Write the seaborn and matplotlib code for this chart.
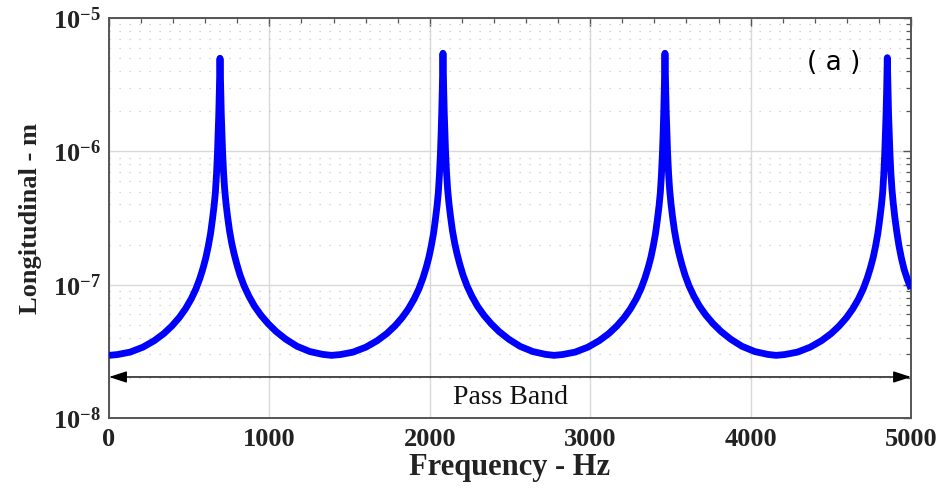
import matplotlib
matplotlib.use("Agg")
import matplotlib.pyplot as plt
import numpy as np
import pandas as pd
import seaborn as sns
from matplotlib.ticker import FixedLocator, MultipleLocator, LogLocator, NullFormatter

# ---- data (frequency in Hz, longitudinal displacement in m) ----
freq_lobe1 = [0, 52, 132, 212, 282, 342, 392, 437, 477, 512, 542, 567, 587, 604, 619, 633,
              645, 655, 663, 670, 676, 680, 684, 688, 692,
              696, 700, 704, 708, 714, 721, 729, 739, 751, 765, 780, 797, 817, 842, 872,
              907, 947, 992, 1042, 1102, 1172, 1252, 1332, 1387]
disp_lobe1 = [2.95e-8, 2.99e-8, 3.12e-8, 3.4e-8, 3.8e-8, 4.3e-8, 4.9e-8, 5.65e-8, 6.6e-8, 7.8e-8,
              9.3e-8, 1.12e-7, 1.34e-7, 1.6e-7, 1.95e-7, 2.42e-7, 3.1e-7, 3.9e-7, 4.9e-7, 6.7e-7,
              9.6e-7, 1.3e-6, 1.85e-6, 2.9e-6, 5.0e-6,
              3.0e-6, 1.9e-6, 1.35e-6, 1.0e-6, 7.0e-7, 5.2e-7, 4.1e-7, 3.25e-7, 2.55e-7, 2.05e-7,
              1.7e-7, 1.42e-7, 1.18e-7, 9.8e-8, 8.2e-8, 6.9e-8, 5.9e-8, 5.1e-8, 4.45e-8, 3.9e-8,
              3.45e-8, 3.15e-8, 3.0e-8, 2.95e-8]

freq_lobe2 = [1442, 1522, 1602, 1672, 1732, 1782, 1827, 1867, 1902, 1932, 1957, 1977, 1994,
              2009, 2023, 2035, 2045, 2053, 2060, 2066, 2070, 2074, 2078, 2082,
              2086, 2090, 2094, 2098, 2104, 2111, 2119, 2129, 2141, 2155, 2170, 2187, 2207,
              2232, 2262, 2297, 2337, 2382, 2432, 2492, 2562, 2642, 2722, 2774]
disp_lobe2 = [2.99e-8, 3.12e-8, 3.4e-8, 3.8e-8, 4.3e-8, 4.9e-8, 5.65e-8, 6.6e-8, 7.8e-8, 9.3e-8,
              1.12e-7, 1.34e-7, 1.6e-7, 1.95e-7, 2.42e-7, 3.1e-7, 3.9e-7, 4.9e-7, 6.7e-7, 9.6e-7,
              1.3e-6, 1.9e-6, 3.0e-6, 5.45e-6,
              3.1e-6, 1.95e-6, 1.37e-6, 1.0e-6, 7.0e-7, 5.2e-7, 4.1e-7, 3.25e-7, 2.55e-7, 2.05e-7,
              1.7e-7, 1.42e-7, 1.18e-7, 9.8e-8, 8.2e-8, 6.9e-8, 5.9e-8, 5.1e-8, 4.45e-8, 3.9e-8,
              3.45e-8, 3.15e-8, 3.0e-8, 2.95e-8]

freq_lobe3 = [2826, 2906, 2986, 3056, 3116, 3166, 3211, 3251, 3286, 3316, 3341, 3361, 3378,
              3393, 3407, 3419, 3429, 3437, 3444, 3450, 3454, 3458, 3462, 3466,
              3470, 3474, 3478, 3482, 3488, 3495, 3503, 3513, 3525, 3539, 3554, 3571, 3591,
              3616, 3646, 3681, 3721, 3766, 3816, 3876, 3946, 4026, 4106, 4159]
disp_lobe3 = [2.99e-8, 3.12e-8, 3.4e-8, 3.8e-8, 4.3e-8, 4.9e-8, 5.65e-8, 6.6e-8, 7.8e-8, 9.3e-8,
              1.12e-7, 1.34e-7, 1.6e-7, 1.95e-7, 2.42e-7, 3.1e-7, 3.9e-7, 4.9e-7, 6.7e-7, 9.6e-7,
              1.3e-6, 1.9e-6, 3.0e-6, 5.45e-6,
              3.1e-6, 1.95e-6, 1.37e-6, 1.0e-6, 7.0e-7, 5.2e-7, 4.1e-7, 3.25e-7, 2.55e-7, 2.05e-7,
              1.7e-7, 1.42e-7, 1.18e-7, 9.8e-8, 8.2e-8, 6.9e-8, 5.9e-8, 5.1e-8, 4.45e-8, 3.9e-8,
              3.45e-8, 3.15e-8, 3.0e-8, 2.95e-8]

freq_lobe4 = [4212, 4292, 4372, 4442, 4502, 4552, 4597, 4637, 4672, 4702, 4727, 4747, 4764,
              4779, 4793, 4805, 4815, 4823, 4830, 4836, 4840, 4844, 4848, 4852,
              4856, 4860, 4864, 4868, 4874, 4881, 4889, 4899, 4911, 4925, 4940, 4957, 4977, 5000]
disp_lobe4 = [2.99e-8, 3.12e-8, 3.4e-8, 3.8e-8, 4.3e-8, 4.9e-8, 5.65e-8, 6.6e-8, 7.8e-8, 9.3e-8,
              1.12e-7, 1.34e-7, 1.6e-7, 1.95e-7, 2.42e-7, 3.1e-7, 3.9e-7, 4.9e-7, 6.7e-7, 9.6e-7,
              1.3e-6, 1.85e-6, 2.9e-6, 5.05e-6,
              3.0e-6, 1.9e-6, 1.35e-6, 1.0e-6, 7.0e-7, 5.2e-7, 4.1e-7, 3.2e-7, 2.5e-7, 1.95e-7,
              1.58e-7, 1.3e-7, 1.1e-7, 9.3e-8]

x_ticks = [0, 1000, 2000, 3000, 4000, 5000]
x_tick_labels = ["0", "1000", "2000", "3000", "4000", "5000"]
y_ticks = [1e-8, 1e-7, 1e-6, 1e-5]
y_tick_labels = [r"$\mathbf{10^{-8}}$", r"$\mathbf{10^{-7}}$", r"$\mathbf{10^{-6}}$", r"$\mathbf{10^{-5}}$"]
band_start, band_end, band_level = 0, 5000, 2.03e-8
band_text = "Pass Band"
band_text_pos = (2506, 1.42e-8)
panel_label = "( a )"

# ---- style ----
sns.set_theme(style="white")
plt.rcParams["font.family"] = ["Liberation Serif", "DejaVu Serif"]
plt.rcParams["mathtext.fontset"] = "custom"
plt.rcParams["mathtext.rm"] = "Liberation Serif"
plt.rcParams["mathtext.bf"] = "Liberation Serif:bold"
plt.rcParams["mathtext.it"] = "Liberation Serif:italic"

fig = plt.figure(figsize=(9.43, 4.9), dpi=100)
fig.patch.set_facecolor("white")
ax = fig.add_axes([0.1156, 0.147, 0.8505, 0.816])
ax.set_yscale("log")

df = pd.DataFrame({
    "Frequency": freq_lobe1 + freq_lobe2 + freq_lobe3 + freq_lobe4,
    "Disp": disp_lobe1 + disp_lobe2 + disp_lobe3 + disp_lobe4,
})
sns.lineplot(data=df, x="Frequency", y="Disp", color="#0000ff", lw=4.9, ax=ax,
             solid_joinstyle="round", solid_capstyle="butt", zorder=3)

ax.set_xlim(0, 5000)
ax.set_ylim(1e-8, 1e-5)

ax.xaxis.set_major_locator(FixedLocator(x_ticks))
ax.set_xticklabels(x_tick_labels)
ax.xaxis.set_minor_locator(MultipleLocator(200))
ax.yaxis.set_major_locator(FixedLocator(y_ticks))
ax.set_yticklabels(y_tick_labels)
ax.yaxis.set_minor_locator(LogLocator(base=10, subs=np.arange(2, 10)))
ax.yaxis.set_minor_formatter(NullFormatter())

ax.grid(which="major", color="#d9d9d9", lw=1.0, ls="-", zorder=0)
ax.yaxis.grid(which="minor", color="#c8c8c8", lw=0.9, ls=(0, (1, 7)), zorder=0)
ax.set_axisbelow(True)

for s in ax.spines.values():
    s.set_color("#555555")
    s.set_linewidth(1.4)
    s.set_visible(True)

ax.tick_params(which="both", direction="in", top=True, right=True, colors="#555555",
               labelcolor="#222222")
ax.tick_params(which="major", length=6, width=1.0)
ax.tick_params(which="minor", length=3.5, width=0.9)
ax.tick_params(axis="x", which="major", labelsize=19, pad=7)
ax.tick_params(axis="y", which="major", labelsize=19, pad=6)
for lab in ax.get_xticklabels():
    lab.set_fontweight("bold")

ax.set_xlabel("Frequency - Hz", fontsize=22, fontweight="bold", color="#222222", labelpad=2)
ax.set_ylabel("Longitudinal - m", fontsize=19, fontweight="bold", color="#222222", labelpad=8)

ax.annotate("", xy=(band_start, band_level), xytext=(band_end, band_level),
            arrowprops=dict(arrowstyle="<|-|>,head_length=0.4,head_width=0.13",
                            color="black", lw=1.0, mutation_scale=27,
                            shrinkA=0, shrinkB=0), zorder=4)
ax.text(band_text_pos[0], band_text_pos[1], band_text, fontsize=20,
        ha="center", va="center", color="#111111")
ax.text(0.904, 0.8875, panel_label, transform=ax.transAxes, fontsize=19,
        family=["DejaVu Sans"], ha="center", va="center", color="black")

fig.savefig("out.png", dpi=100, facecolor="white")
